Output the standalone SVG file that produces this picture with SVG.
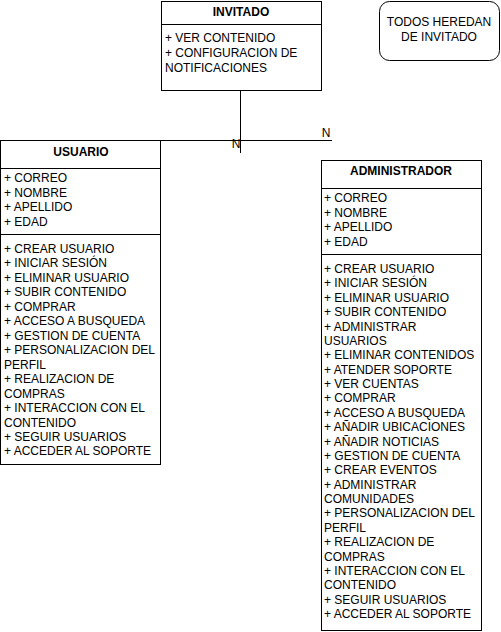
<svg xmlns="http://www.w3.org/2000/svg" width="501" height="632" viewBox="0 0 501 632">
<style>
.box{fill:#fff;stroke:#000;stroke-width:1}
.ln{stroke:#000;stroke-width:1;fill:none}
text{font-family:"Liberation Sans",Arial,sans-serif;font-size:12px;fill:#000}
.t{font-weight:bold;text-anchor:middle}
.c{text-anchor:middle}
</style>
<rect width="501" height="632" fill="#fff"/>
<g id="connectors">
<path class="ln" d="M240.5 90.5V153"/>
<path class="ln" d="M161 140.5H332"/>
<text x="236" y="148" class="c">N</text>
<text x="326" y="137" class="c">N</text>
</g>
<g id="invitado">
<rect class="box" x="161.5" y="1.5" width="160" height="89"/>
<path class="ln" d="M161.5 24.5H321.5"/>
<text x="241" y="16" class="t">INVITADO</text>
<text x="165" y="42">+ VER CONTENIDO</text>
<text x="165" y="57">+ CONFIGURACION DE</text>
<text x="165" y="72">NOTIFICACIONES</text>
</g>
<g id="nota">
<rect class="box" x="379.5" y="1.5" width="120" height="59" rx="10"/>
<text x="439" y="26" class="c">TODOS HEREDAN</text>
<text x="439" y="41" class="c">DE INVITADO</text>
</g>
<g id="usuario">
<rect class="box" x="0.5" y="140.5" width="160" height="324"/>
<path class="ln" d="M0.5 168.5H160.5M0.5 234.5H160.5"/>
<text x="81" y="156" class="t">USUARIO</text>
<g transform="translate(4,1)">
<text y="181">+ CORREO</text>
<text y="196">+ NOMBRE</text>
<text y="210">+ APELLIDO</text>
<text y="225">+ EDAD</text>
<text y="252">+ CREAR USUARIO</text>
<text y="266">+ INICIAR SESIÓN</text>
<text y="281">+ ELIMINAR USUARIO</text>
<text y="295">+ SUBIR CONTENIDO</text>
<text y="310">+ COMPRAR</text>
<text y="324">+ ACCESO A BUSQUEDA</text>
<text y="339">+ GESTION DE CUENTA</text>
<text y="353">+ PERSONALIZACION DEL</text>
<text y="368">PERFIL</text>
<text y="382">+ REALIZACION DE</text>
<text y="397">COMPRAS</text>
<text y="411">+ INTERACCION CON EL</text>
<text y="426">CONTENIDO</text>
<text y="440">+ SEGUIR USUARIOS</text>
<text y="454">+ ACCEDER AL SOPORTE</text>
</g>
</g>
<g id="administrador">
<rect class="box" x="321.5" y="160.5" width="160" height="470"/>
<path class="ln" d="M321.5 188.5H481.5M321.5 254.5H481.5"/>
<text x="401" y="175" class="t">ADMINISTRADOR</text>
<g transform="translate(324,1)">
<text y="201">+ CORREO</text>
<text y="216">+ NOMBRE</text>
<text y="230">+ APELLIDO</text>
<text y="245">+ EDAD</text>
<text y="272">+ CREAR USUARIO</text>
<text y="286.4">+ INICIAR SESIÓN</text>
<text y="300.8">+ ELIMINAR USUARIO</text>
<text y="315.1">+ SUBIR CONTENIDO</text>
<text y="329.5">+ ADMINISTRAR</text>
<text y="343.9">USUARIOS</text>
<text y="358.3">+ ELIMINAR CONTENIDOS</text>
<text y="372.6">+ ATENDER SOPORTE</text>
<text y="387">+ VER CUENTAS</text>
<text y="401.4">+ COMPRAR</text>
<text y="415.8">+ ACCESO A BUSQUEDA</text>
<text y="430.1">+ AÑADIR UBICACIONES</text>
<text y="444.5">+ AÑADIR NOTICIAS</text>
<text y="458.9">+ GESTION DE CUENTA</text>
<text y="473.3">+ CREAR EVENTOS</text>
<text y="487.6">+ ADMINISTRAR</text>
<text y="502">COMUNIDADES</text>
<text y="516.4">+ PERSONALIZACION DEL</text>
<text y="530.8">PERFIL</text>
<text y="545.1">+ REALIZACION DE</text>
<text y="559.5">COMPRAS</text>
<text y="573.9">+ INTERACCION CON EL</text>
<text y="588.3">CONTENIDO</text>
<text y="602.6">+ SEGUIR USUARIOS</text>
<text y="617">+ ACCEDER AL SOPORTE</text>
</g>
</g>
</svg>
